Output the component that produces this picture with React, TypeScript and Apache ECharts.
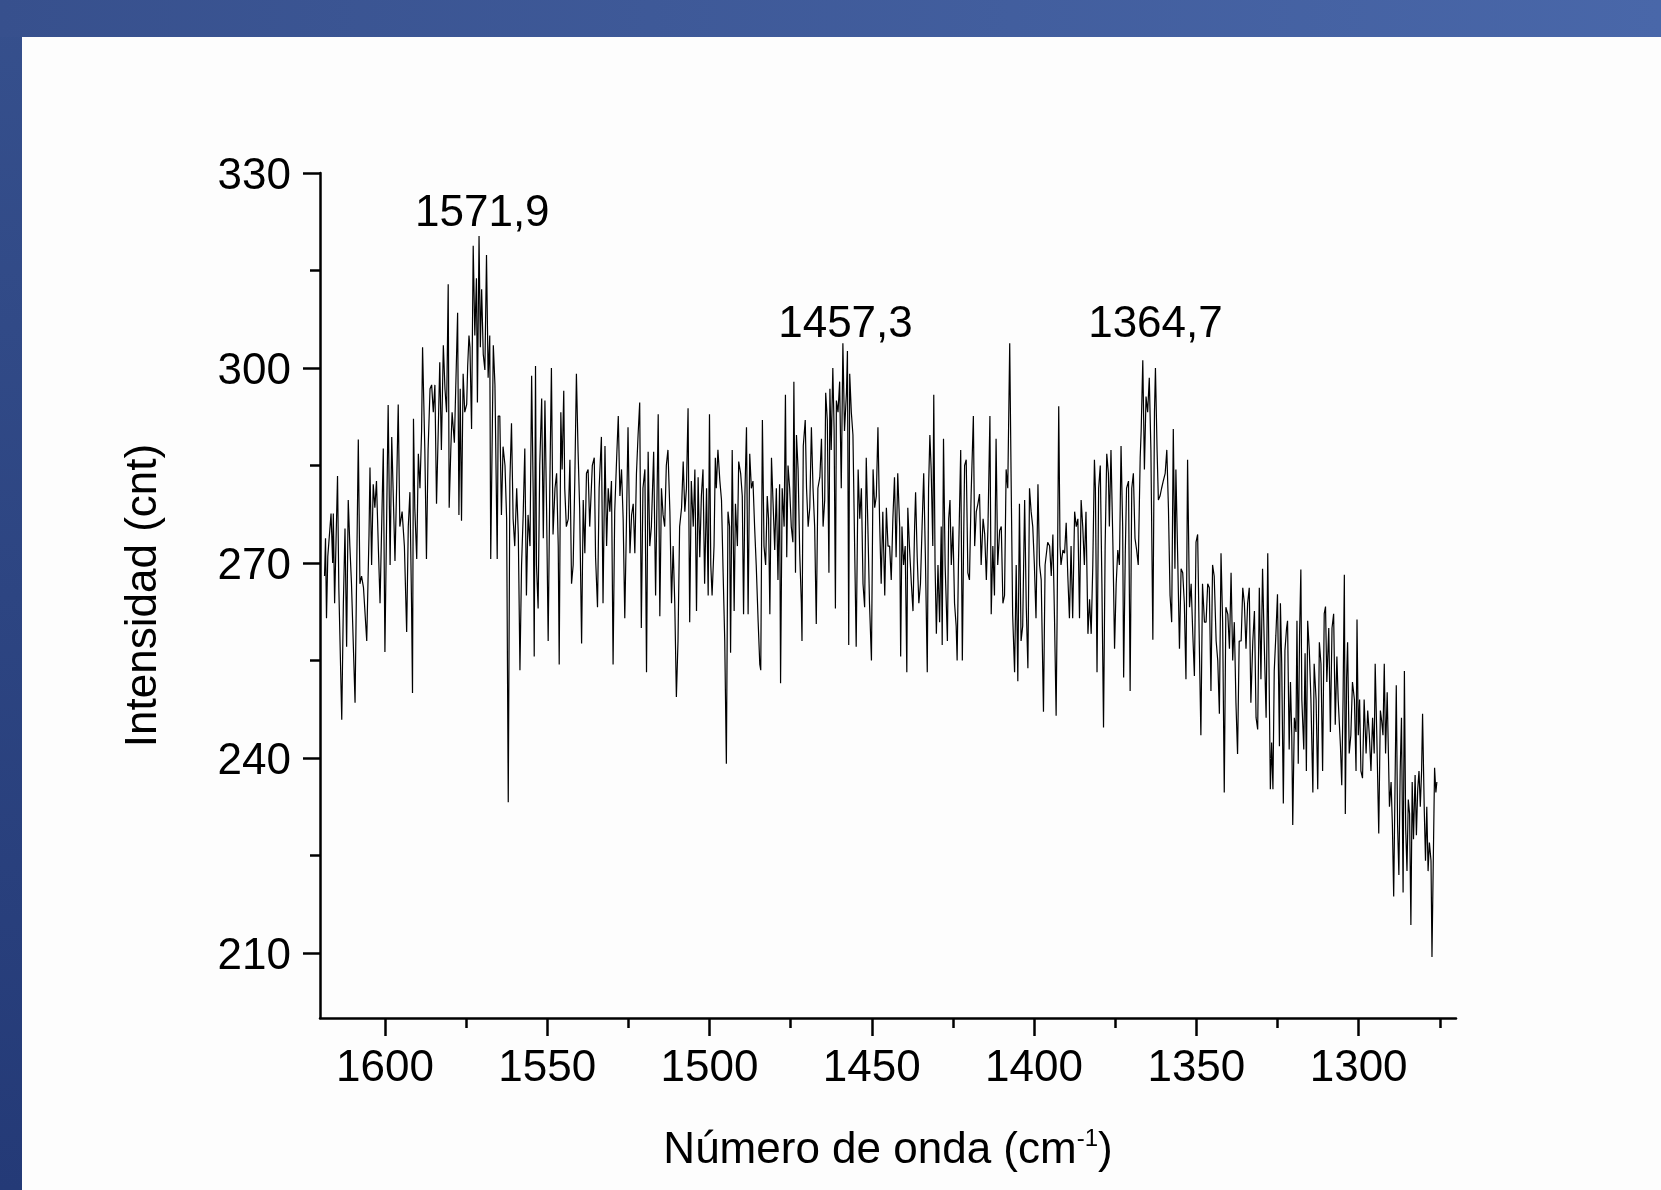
import React, { useEffect, useRef } from "react";
import * as echarts from "echarts";

const xMajorTicks = [1600, 1550, 1500, 1450, 1400, 1350, 1300];
const xMinorTicks = [1575, 1525, 1475, 1425, 1375, 1325, 1275];
const yMajorTicks = [210, 240, 270, 300, 330];
const yMinorTicks = [225, 255, 285, 315];
const peakLabels = ["1571,9", "1457,3", "1364,7"];
const peakLabelX = [1570, 1458.1, 1362.6];
const peakLabelY = [324.3, 307.2, 307.2];

const spectrum: [number, number][] = [
  [1618.6, 268], [1618.3, 273.8], [1618.0, 261.5], [1617.6, 271], [1616.6, 277.6], [1616.1, 270], [1615.9, 277.6], [1615.5, 263.8], [1614.6, 283.4], [1614.2, 266.2],
  [1613.3, 245.9], [1612.8, 263.8], [1612.3, 275.3], [1611.8, 257.1], [1611.3, 279.7], [1610.8, 272.6], [1610.3, 266.8], [1609.2, 248.5], [1608.2, 289], [1607.7, 266.8],
  [1607.2, 268], [1606.6, 266.2], [1605.6, 258], [1604.9, 274.4], [1604.6, 284.7], [1604.1, 269.7], [1603.6, 282.1], [1603.1, 278.5], [1602.6, 282.6], [1602.0, 272],
  [1601.5, 263.8], [1600.5, 287.6], [1600.0, 256.3], [1599.5, 275.6], [1599.0, 294.3], [1598.4, 269.7], [1597.9, 289.4], [1596.9, 270.3], [1596.4, 281.5], [1595.9, 294.4],
  [1595.4, 275.6], [1594.7, 277.9], [1594.0, 272.6], [1593.3, 259.4], [1592.8, 275.6], [1592.3, 280.9], [1591.8, 263.8], [1591.5, 250], [1591.2, 292.2], [1590.8, 278.5],
  [1590.2, 270.6], [1589.7, 286.8], [1589.2, 281.5], [1588.7, 290.3], [1588.4, 303.2], [1587.7, 287.4], [1587.2, 270.6], [1586.7, 287.4], [1586.1, 296.8], [1585.6, 297.4],
  [1585.1, 293.2], [1584.6, 297.4], [1584.1, 279.1], [1583.6, 289.7], [1583.1, 300.9], [1582.6, 287.4], [1582.0, 303.5], [1581.5, 296.8], [1581.0, 293.2], [1580.5, 312.9],
  [1580.2, 278.5], [1579.7, 287.4], [1579.3, 293.2], [1578.6, 288.5], [1577.6, 308.5], [1577.2, 277.4], [1576.8, 296.8], [1576.4, 276.5], [1575.9, 299.1], [1575.4, 293.2],
  [1574.8, 294.4], [1574.5, 300.3], [1574.1, 305], [1573.8, 303.2], [1573.3, 290.6], [1572.8, 318.8], [1572.3, 305], [1571.8, 313.8], [1571.5, 294.7], [1571.0, 320.3],
  [1570.6, 303.2], [1570.2, 312.1], [1569.7, 302.1], [1569.2, 299.7], [1568.7, 317.4], [1568.2, 298.5], [1567.7, 305], [1567.4, 270.6], [1566.6, 303.5], [1566.1, 297.4],
  [1565.4, 270.6], [1565.1, 292.6], [1564.6, 292.6], [1564.1, 277.4], [1563.6, 287.9], [1563.0, 285], [1562.5, 276.8], [1562.0, 233.2], [1561.5, 282.6], [1561.0, 291.5],
  [1560.5, 276.8], [1560.0, 272.6], [1559.4, 281.5], [1558.9, 274.4], [1558.4, 253.5], [1557.9, 269.7], [1557.4, 277.4], [1556.9, 287.6], [1556.4, 265], [1555.9, 277.4],
  [1555.3, 272.6], [1554.8, 298.8], [1554.3, 280.3], [1554.0, 255.6], [1553.6, 300.3], [1553.3, 269.7], [1552.8, 263], [1552.3, 285], [1551.7, 295.3], [1551.2, 273.8],
  [1550.7, 295], [1550.2, 278.5], [1549.7, 258], [1549.2, 281.5], [1548.7, 300], [1548.2, 274.4], [1547.6, 281.5], [1547.1, 283.8], [1546.6, 272.6], [1546.3, 254.4],
  [1545.8, 293.2], [1545.4, 284.4], [1544.9, 296.5], [1544.6, 281.5], [1544.1, 275.6], [1543.5, 276.8], [1543.0, 285.9], [1542.5, 266.8], [1542.0, 269.7], [1541.5, 282.6],
  [1541.0, 299.1], [1540.5, 287.4], [1540.0, 278.5], [1539.4, 257.6], [1538.9, 279.7], [1538.4, 271.5], [1537.9, 283.8], [1537.4, 284.4], [1536.9, 275.6], [1536.1, 285],
  [1535.5, 286.2], [1535.1, 270.9], [1534.5, 263.2], [1534.0, 281.5], [1533.3, 289.4], [1532.8, 263.8], [1532.2, 288], [1531.7, 272.6], [1531.2, 281.5], [1530.7, 277.9],
  [1530.2, 282.6], [1529.7, 254.4], [1529.2, 277.9], [1528.6, 286.2], [1528.1, 292.6], [1527.6, 280.3], [1527.1, 284.4], [1526.6, 276.8], [1526.1, 261.5], [1525.6, 275.6],
  [1525.1, 290.9], [1524.5, 271.5], [1524.0, 277.4], [1523.5, 279.1], [1523.0, 271.5], [1522.5, 283.8], [1522.0, 289.7], [1521.5, 294.7], [1521.0, 260], [1520.5, 281.5],
  [1519.9, 284.4], [1519.4, 253.2], [1518.9, 287.1], [1518.4, 272.6], [1517.9, 275.6], [1517.2, 287.1], [1516.6, 265], [1515.8, 292.9], [1515.3, 261.8], [1514.8, 281.5],
  [1514.3, 277.4], [1513.8, 275.6], [1513.3, 285], [1512.8, 287.4], [1512.2, 277.9], [1511.7, 263.8], [1511.2, 272.6], [1510.7, 263.8], [1510.2, 249.4], [1509.7, 258],
  [1509.2, 275.6], [1508.6, 278.5], [1508.1, 285.6], [1507.6, 277.9], [1507.1, 281.5], [1506.6, 293.8], [1506.1, 260.9], [1505.6, 282.6], [1505.0, 275.6], [1504.5, 284.4],
  [1504.0, 262.6], [1503.5, 283.2], [1503.0, 270.9], [1502.5, 280.3], [1502.0, 284.4], [1501.5, 266.8], [1500.9, 281.5], [1500.4, 265], [1500.0, 292.9], [1499.6, 269.7],
  [1499.2, 265], [1498.6, 272.6], [1498.2, 286.2], [1497.9, 281.5], [1497.4, 287.4], [1496.8, 282.6], [1496.3, 279.7], [1495.8, 268.5], [1495.3, 258], [1494.8, 239.1],
  [1494.3, 277.9], [1493.8, 275.6], [1493.5, 256.2], [1493.0, 287.4], [1492.4, 262.6], [1492.0, 279.1], [1491.4, 272.6], [1491.0, 285.6], [1490.4, 283.8], [1489.9, 280.3],
  [1489.5, 262.1], [1489.1, 280.3], [1488.6, 290.9], [1488.1, 262.1], [1487.6, 286.8], [1487.1, 281.5], [1486.6, 282.6], [1486.1, 275.6], [1485.6, 269.7], [1485.0, 260.9],
  [1484.5, 254.4], [1484.2, 253.5], [1483.7, 292], [1483.2, 272.6], [1482.7, 269.7], [1482.2, 280.3], [1481.8, 276.8], [1481.4, 262.1], [1480.9, 286.2], [1480.4, 279.1],
  [1479.9, 272], [1479.4, 281.5], [1478.9, 267.4], [1478.4, 282.1], [1478.1, 251.5], [1477.6, 281.5], [1477.0, 275.6], [1476.6, 295.9], [1476.2, 270.9], [1475.8, 285],
  [1475.3, 281.5], [1474.8, 275.6], [1474.3, 273.2], [1474.0, 297.9], [1473.5, 268.5], [1473.2, 289.7], [1472.7, 284.4], [1472.2, 271.5], [1471.7, 263.8], [1471.5, 258],
  [1471.1, 288], [1470.5, 292], [1470.1, 281.5], [1469.6, 275.6], [1469.1, 278.5], [1468.6, 290.9], [1468.1, 281.5], [1467.6, 275.6], [1467.1, 260.6], [1466.6, 281.5],
  [1466.0, 283.2], [1465.5, 289.1], [1465.0, 275.6], [1464.5, 279.7], [1464.2, 296.2], [1463.7, 292], [1463.2, 268.5], [1462.9, 296.8], [1462.5, 287.4], [1462.0, 300],
  [1461.6, 290.3], [1461.2, 263], [1460.9, 295], [1460.4, 293.2], [1459.9, 297.9], [1459.4, 281.5], [1458.9, 303.8], [1458.4, 290.3], [1457.8, 296.2], [1457.5, 302.6],
  [1457.1, 257.4], [1456.8, 299.1], [1456.3, 293.2], [1455.8, 289.7], [1455.3, 273.2], [1454.8, 257.1], [1454.2, 284.4], [1453.7, 276.8], [1453.2, 281.5], [1452.7, 266.8],
  [1452.2, 263.2], [1451.7, 286.2], [1451.2, 275.6], [1450.7, 263.8], [1450.1, 255], [1449.6, 284.4], [1449.1, 278.5], [1448.6, 280.3], [1448.1, 290.9], [1447.6, 276.8],
  [1447.1, 266.8], [1446.6, 277.9], [1446.0, 265], [1445.5, 278.5], [1445.0, 272.6], [1444.5, 272.6], [1444.0, 267.4], [1443.5, 276.8], [1443.0, 283.2], [1442.5, 270.9],
  [1442.0, 283.8], [1441.4, 275.6], [1441.1, 255.6], [1440.7, 275.6], [1440.2, 269.7], [1439.7, 272.6], [1439.2, 253.2], [1438.9, 278.5], [1438.4, 272.6], [1437.8, 266.8],
  [1437.3, 262.6], [1436.8, 275.6], [1436.5, 280.9], [1436.0, 270.9], [1435.5, 263.8], [1435.0, 266.8], [1434.5, 275.6], [1434.0, 283.8], [1433.5, 271.5], [1432.9, 253.2],
  [1432.5, 281.5], [1432.1, 289.7], [1431.7, 284.4], [1431.2, 272.6], [1430.9, 295.9], [1430.5, 269.7], [1430.1, 259.1], [1429.6, 269.7], [1429.1, 260.9], [1428.6, 275.6],
  [1428.3, 257.4], [1427.9, 289.1], [1427.4, 269.7], [1426.7, 258], [1426.3, 276.8], [1425.9, 279.7], [1425.5, 269.7], [1425.0, 275.6], [1424.5, 263.8], [1424.0, 260.3],
  [1423.7, 255], [1423.3, 269.7], [1423.0, 277.4], [1422.6, 287.4], [1422.1, 255], [1421.7, 273.2], [1421.4, 285], [1420.9, 285.9], [1420.4, 268.5], [1419.9, 267.4],
  [1419.4, 280.3], [1418.7, 292.6], [1418.3, 272.6], [1417.8, 277.9], [1417.3, 279.1], [1416.8, 280.6], [1416.3, 269.7], [1415.7, 276.8], [1415.2, 274.4], [1414.7, 267.4],
  [1414.2, 275.6], [1413.6, 292.6], [1413.2, 262.1], [1412.7, 272.6], [1412.2, 265], [1411.7, 289.1], [1411.2, 269.7], [1410.6, 275], [1410.1, 275.6], [1409.6, 263.8],
  [1409.1, 265], [1408.6, 284.4], [1408.1, 281.5], [1407.5, 303.8], [1407.1, 284.4], [1406.6, 262.1], [1406.0, 253.2], [1405.5, 269.7], [1405.0, 251.8], [1404.5, 279.1],
  [1404.0, 258], [1403.5, 260.3], [1402.9, 279.7], [1402.4, 263.2], [1401.9, 253.8], [1401.4, 281.5], [1400.9, 277.9], [1400.4, 275.6], [1399.9, 269.7], [1399.4, 261.5],
  [1398.8, 282.1], [1398.3, 269.7], [1397.8, 267.4], [1397.1, 247.1], [1396.6, 269.7], [1395.8, 273.2], [1395.2, 272.6], [1394.7, 268], [1394.2, 274.4], [1393.7, 261.5],
  [1393.2, 246.5], [1392.9, 261.5], [1392.4, 294.1], [1392.0, 272.6], [1391.7, 269.7], [1391.1, 272], [1390.6, 271.5], [1390.1, 276.2], [1389.6, 268], [1389.1, 261.5],
  [1388.6, 272.6], [1388.1, 261.5], [1387.5, 277.9], [1387.0, 275.6], [1386.5, 276.8], [1386.0, 261.5], [1385.5, 279.7], [1385.0, 275.6], [1384.5, 269.7], [1384.0, 277.9],
  [1383.4, 259.1], [1382.9, 264.4], [1382.4, 259.1], [1381.9, 269.7], [1381.4, 285.9], [1381.1, 281.5], [1380.6, 253.2], [1380.1, 281.5], [1379.6, 285], [1379.1, 266.8],
  [1378.6, 244.7], [1378.1, 272.6], [1377.6, 286.8], [1377.1, 283.8], [1376.8, 275.6], [1376.3, 287.4], [1375.7, 272.6], [1375.2, 256.8], [1374.7, 266.8], [1374.2, 272],
  [1373.7, 269.7], [1373.2, 288], [1372.7, 275.6], [1372.4, 252.4], [1371.9, 271.5], [1371.5, 281.5], [1370.9, 282.6], [1370.4, 250.3], [1369.9, 281.5], [1369.4, 283.8],
  [1368.9, 273.8], [1368.4, 272], [1367.9, 269.7], [1367.3, 286.2], [1367.0, 290.3], [1366.5, 301.2], [1366.0, 284.4], [1365.5, 295.6], [1365.0, 293.2], [1364.5, 298.5],
  [1364.0, 287.4], [1363.4, 258.2], [1362.9, 293.2], [1362.6, 300], [1362.1, 287.4], [1361.7, 279.7], [1361.2, 280.3], [1360.7, 281.5], [1360.2, 282.6], [1359.6, 283.8],
  [1359.1, 287.4], [1358.6, 278.5], [1358.1, 265], [1357.6, 260.9], [1357.1, 290.6], [1356.6, 269.1], [1356.3, 284.4], [1355.7, 269.7], [1355.2, 256.8], [1354.7, 269.1],
  [1354.2, 268.5], [1353.7, 263.8], [1353.2, 252.1], [1352.7, 285.9], [1352.1, 263.2], [1351.6, 266.8], [1351.1, 259.1], [1350.6, 252.6], [1350.1, 273.2], [1349.6, 274.4],
  [1349.1, 258], [1348.6, 243.5], [1348.1, 266.8], [1347.5, 260.9], [1347.0, 260.9], [1346.5, 266.8], [1346.0, 266.2], [1345.5, 250.3], [1345.0, 269.7], [1344.5, 268],
  [1343.9, 258], [1343.4, 255], [1342.9, 246.8], [1342.4, 271.5], [1341.9, 260.9], [1341.4, 234.7], [1340.9, 263.2], [1340.3, 262.1], [1339.8, 256.8], [1339.3, 268.5],
  [1338.8, 255], [1338.3, 260.9], [1337.8, 248.5], [1337.3, 240.6], [1336.8, 258], [1336.2, 258], [1335.7, 266.2], [1335.2, 263.8], [1334.7, 256.8], [1334.2, 263.8],
  [1333.7, 266.2], [1333.2, 248.5], [1332.6, 258], [1332.1, 262.6], [1331.6, 246.2], [1331.1, 244.4], [1330.6, 266.2], [1330.1, 252.1], [1329.6, 269.1], [1329.1, 258],
  [1328.5, 246.2], [1328.0, 271.5], [1327.2, 235.2], [1326.8, 242.4], [1326.4, 235.2], [1326.0, 253.4], [1325.5, 258.9], [1325.0, 265.2], [1324.4, 241.8], [1324.1, 263.8],
  [1323.7, 254.5], [1323.2, 233], [1322.7, 256.6], [1322.2, 260], [1321.9, 261.1], [1321.4, 241.3], [1321.0, 251.7], [1320.6, 243.5], [1320.3, 229.7], [1319.8, 246.2],
  [1319.3, 244], [1319.0, 261.1], [1318.6, 239.1], [1318.2, 258.9], [1317.8, 269], [1317.5, 249], [1316.9, 241.3], [1316.5, 256.1], [1316.1, 238], [1315.7, 261.1],
  [1315.2, 256.6], [1314.7, 249], [1314.1, 234.7], [1313.7, 254.5], [1313.1, 249], [1312.6, 235.2], [1312.1, 257.8], [1311.6, 254.5], [1311.1, 238], [1310.6, 262.2],
  [1310.2, 263.3], [1309.8, 251.7], [1309.2, 260], [1308.7, 244], [1308.2, 260], [1307.7, 262.2], [1307.2, 245.1], [1306.7, 255.6], [1306.3, 249], [1305.6, 241.8],
  [1305.2, 235.8], [1304.8, 249], [1304.4, 268.2], [1304.1, 231.4], [1303.7, 252.3], [1303.4, 257.8], [1302.9, 240.7], [1302.4, 243.5], [1301.9, 251.7], [1301.3, 249],
  [1300.8, 238], [1300.5, 261.3], [1300.1, 243.5], [1299.7, 249], [1299.3, 238], [1298.8, 236.9], [1298.3, 249], [1297.7, 240.7], [1297.2, 247.3], [1296.7, 243.5],
  [1296.2, 238], [1295.7, 246.2], [1295.2, 240.7], [1294.9, 254.5], [1294.4, 243.5], [1293.8, 228.4], [1293.3, 247.3], [1292.9, 245.7], [1292.5, 243.5], [1292.1, 254.5],
  [1291.7, 240.7], [1291.2, 250.1], [1290.5, 232.5], [1290.0, 236.3], [1289.6, 229.7], [1289.2, 218.7], [1288.8, 235.2], [1288.4, 251.2], [1288.0, 229.7], [1287.6, 222],
  [1287.2, 238], [1286.8, 246.2], [1286.3, 219.3], [1285.9, 253.4], [1285.5, 229.2], [1285.1, 222.6], [1284.7, 233.6], [1284.3, 231.4], [1283.9, 214.3], [1283.5, 236.3],
  [1283.1, 227.5], [1282.6, 237.4], [1282.2, 228.1], [1281.8, 235.2], [1281.4, 238], [1281.0, 232.5], [1280.6, 238], [1280.3, 246.8], [1279.8, 232.5], [1279.4, 224.2],
  [1279.0, 232.5], [1278.6, 222.6], [1278.2, 227], [1277.7, 224.2], [1277.4, 209.4], [1277.0, 224.2], [1276.6, 238.5], [1276.2, 234.7], [1275.9, 236.3],
];

const FONT = "'Liberation Sans', Arial, Helvetica, sans-serif";
const FS = 44;

export default function App() {
  const ref = useRef<HTMLDivElement>(null);
  useEffect(() => {
    const chart = echarts.init(ref.current!, null, { renderer: "svg" });
    const axisCommonX = {
      type: "value" as const,
      min: 1270,
      max: 1620,
      inverse: true,
      position: "bottom" as const,
      splitLine: { show: false },
    };
    const axisCommonY = {
      type: "value" as const,
      min: 200,
      max: 330,
      position: "left" as const,
      splitLine: { show: false },
    };
    chart.setOption({
      animation: false,
      backgroundColor: "transparent",
      graphic: {
        elements: [
          {
            type: "rect",
            silent: true,
            z: -20,
            shape: { x: 0, y: 0, width: 1661, height: 1190 },
            style: {
              fill: new echarts.graphic.LinearGradient(0, 0, 0, 1, [
                { offset: 0, color: "#36508d" },
                { offset: 1, color: "#243a77" },
              ]),
            },
          },
          {
            type: "rect",
            silent: true,
            z: -19,
            shape: { x: 0, y: 0, width: 1661, height: 37 },
            style: {
              fill: new echarts.graphic.LinearGradient(0, 0, 1, 0, [
                { offset: 0, color: "#37508d" },
                { offset: 1, color: "#4967a9" },
              ]),
            },
          },
          {
            type: "rect",
            silent: true,
            z: -18,
            shape: { x: 22, y: 37, width: 1639, height: 1153 },
            style: { fill: "#fdfdfd" },
          },
        ],
      },
      grid: { left: 320, right: 205, top: 173, bottom: 172, containLabel: false },
      xAxis: [
        {
          ...axisCommonX,
          axisLine: { show: true, lineStyle: { color: "#000", width: 2.5 } },
          axisTick: { show: true, customValues: xMajorTicks, length: 18, lineStyle: { color: "#000", width: 2.5 } },
          axisLabel: {
            customValues: xMajorTicks,
            margin: 25,
            fontSize: FS,
            color: "#000",
            fontFamily: FONT,
            formatter: (v: number) => String(v),
          },
          name: "Número de onda (cm{sup|-1})",
          nameLocation: "middle",
          nameGap: 107,
          nameTextStyle: {
            fontSize: FS,
            lineHeight: FS,
            color: "#000",
            fontFamily: FONT,
            rich: { sup: { fontSize: 24, lineHeight: 28, color: "#000", fontFamily: FONT, verticalAlign: "top" } },
          },
        },
        {
          ...axisCommonX,
          axisLine: { show: false },
          axisTick: { show: true, customValues: xMinorTicks, length: 10, lineStyle: { color: "#000", width: 2.5 } },
          axisLabel: { show: false },
        },
      ],
      yAxis: [
        {
          ...axisCommonY,
          axisLine: { show: true, lineStyle: { color: "#000", width: 2.5 } },
          axisTick: { show: true, customValues: yMajorTicks, length: 17, lineStyle: { color: "#000", width: 2.5 } },
          axisLabel: { customValues: yMajorTicks, margin: 29, fontSize: FS, color: "#000", fontFamily: FONT },
          name: "Intensidad (cnt)",
          nameLocation: "middle",
          nameGap: 158,
          nameRotate: 90,
          nameTextStyle: { fontSize: FS, color: "#000", fontFamily: FONT },
        },
        {
          ...axisCommonY,
          axisLine: { show: false },
          axisTick: { show: true, customValues: yMinorTicks, length: 10, lineStyle: { color: "#000", width: 2.5 } },
          axisLabel: { show: false },
        },
      ],
      series: [
        {
          type: "line",
          data: spectrum,
          xAxisIndex: 0,
          yAxisIndex: 0,
          symbol: "none",
          showSymbol: false,
          lineStyle: { color: "#000", width: 1.2 },
          markPoint: {
            symbol: "circle",
            symbolSize: 1,
            itemStyle: { color: "rgba(0,0,0,0)" },
            label: { show: true, position: "inside", formatter: "{b}", fontSize: FS, color: "#000", fontFamily: FONT },
            data: peakLabels.map((t, i) => ({ name: t, coord: [peakLabelX[i], peakLabelY[i]] })),
          },
        },
      ],
    });
    return () => chart.dispose();
  }, []);
  return <div ref={ref} style={{ position: "fixed", left: 0, top: 0, width: 1661, height: 1190 }} />;
}
